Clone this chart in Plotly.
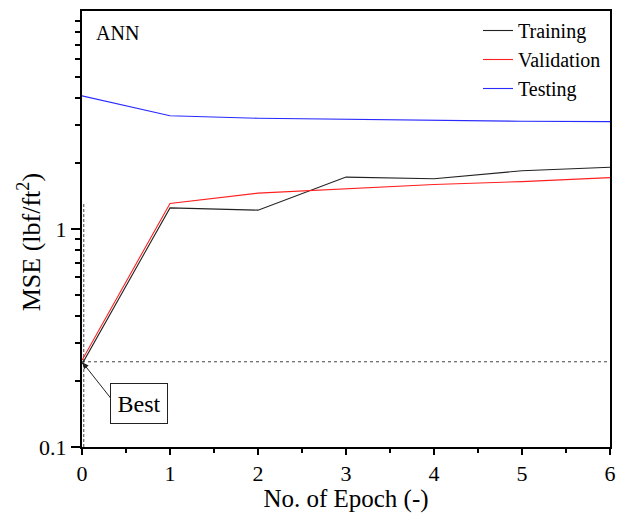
import math
import plotly.graph_objects as go

# Epochs and mean squared error per data split
epochs = [0, 1, 2, 3, 4, 5, 6]
training = [0.240, 1.25, 1.22, 1.73, 1.70, 1.85, 1.92]
validation = [0.250, 1.31, 1.46, 1.53, 1.60, 1.65, 1.72]
testing = [4.08, 3.31, 3.22, 3.18, 3.14, 3.12, 3.11]

# Best-performance marker
best_epoch = 0
best_mse = 0.246
best_guide_x = 0.02      # vertical guide drawn just right of the axis
best_guide_top = 1.33

x_ticks = [0, 1, 2, 3, 4, 5, 6]
x_minor = [0.5, 1.5, 2.5, 3.5, 4.5, 5.5]
y_ticks = [0.1, 1]
y_tick_text = ["0.1", "1"]
y_minor = [0.2, 0.3, 0.4, 0.5, 0.6, 0.7, 0.8, 0.9, 2, 3, 4, 5, 6, 7, 8, 9]

FONT = "Liberation Serif, Times New Roman, serif"

fig = go.Figure()

# Dashed guide lines marking the best epoch
fig.add_trace(go.Scatter(
    x=[epochs[0], epochs[-1]], y=[best_mse, best_mse], mode="lines",
    line=dict(color="#444444", width=1, dash="3px,3px"),
    showlegend=False, hoverinfo="skip"))
fig.add_trace(go.Scatter(
    x=[best_guide_x, best_guide_x], y=[y_ticks[0], best_guide_top], mode="lines",
    line=dict(color="#444444", width=1, dash="3px,2px"),
    showlegend=False, hoverinfo="skip"))

fig.add_trace(go.Scatter(x=epochs, y=training, mode="lines", name="Training",
                         line=dict(color="#222222", width=1.1)))
fig.add_trace(go.Scatter(x=epochs, y=validation, mode="lines", name="Validation",
                         line=dict(color="#ff2020", width=1.1)))
fig.add_trace(go.Scatter(x=epochs, y=testing, mode="lines", name="Testing",
                         line=dict(color="#2a2aff", width=1.1)))

# Arrow pointing at the best point
fig.add_annotation(
    x=best_epoch, y=math.log10(best_mse), xref="x", yref="y",
    text="", showarrow=True, ax=30, ay=38, axref="pixel", ayref="pixel",
    arrowhead=2, arrowsize=1.2, arrowwidth=1, arrowcolor="#222222", standoff=1)

# "Best" label box
fig.add_annotation(
    x=0.647, y=-0.8026, xref="x", yref="y", showarrow=False,
    text="Best", font=dict(family=FONT, size=24, color="black"),
    width=54, height=37, align="center", valign="middle",
    bordercolor="#222222", borderwidth=1, borderpad=1, bgcolor="white",
    xanchor="center", yanchor="middle")

# Panel label
fig.add_annotation(
    x=0.0225, y=0.95, xref="paper", yref="paper", showarrow=False,
    text="ANN", font=dict(family=FONT, size=20, color="black"),
    xanchor="left", yanchor="middle")

# Vertical axis title
fig.add_annotation(
    x=-0.1, y=0.47, xref="paper", yref="paper", showarrow=False,
    text="MSE (lbf/ft<sup>2</sup>)", textangle=-90,
    font=dict(family=FONT, size=26, color="black"),
    xanchor="center", yanchor="middle")

fig.update_layout(
    width=622, height=513,
    margin=dict(l=82, r=6, t=11, b=63),
    paper_bgcolor="white", plot_bgcolor="white",
    font=dict(family=FONT, color="black", size=22),
    legend=dict(x=0.75, y=1.0, xanchor="left", yanchor="top",
                bgcolor="rgba(0,0,0,0)", font=dict(family=FONT, size=20),
                tracegroupgap=0),
    showlegend=True,
)

fig.update_xaxes(
    range=[0, 6], tickvals=x_ticks, ticks="outside", ticklen=6, tickwidth=1.5,
    tickcolor="black", showline=True, linecolor="black", linewidth=2,
    mirror=True, showgrid=False, zeroline=False,
    tickfont=dict(family=FONT, size=22),
    minor=dict(tickvals=x_minor, ticks="outside",
               ticklen=4, tickwidth=1.5, tickcolor="black"),
    title=dict(text="No. of Epoch (-)", font=dict(family=FONT, size=25), standoff=3),
)

fig.update_yaxes(
    type="log", range=[-1, 1], tickvals=y_ticks, ticktext=y_tick_text,
    ticks="outside", ticklen=9, tickwidth=1.5, tickcolor="black",
    showline=True, linecolor="black", linewidth=2, mirror=True,
    showgrid=False, zeroline=False,
    tickfont=dict(family=FONT, size=22),
    minor=dict(tickvals=y_minor, ticks="outside", ticklen=5, tickwidth=1.5,
               tickcolor="black"),
)

fig.write_html("out.html")
